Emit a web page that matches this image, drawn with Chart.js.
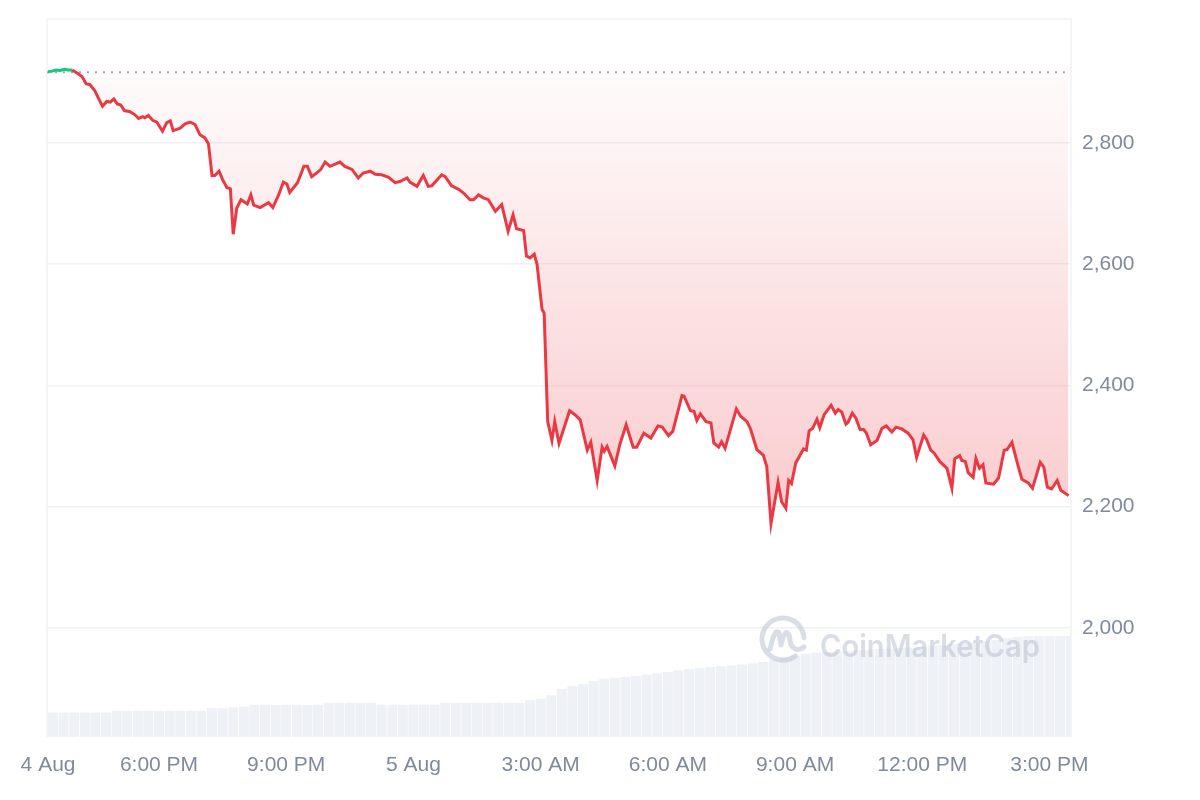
<!DOCTYPE html>
<html>
<head>
<meta charset="utf-8">
<title>Price chart</title>
<script src="https://cdn.jsdelivr.net/npm/chart.js@4.4.1/dist/chart.umd.min.js"></script>
<style>
  html, body { margin: 0; padding: 0; background: #ffffff; }
  #wrap { width: 1200px; height: 800px; }
</style>
</head>
<body>
<div id="wrap"><canvas id="mycanvas" width="1200" height="800"></canvas></div>
<script>
// time = minutes after 4 Aug 00:00
var times = [
  923, 929, 934, 940, 946, 951, 957, 964, 971, 977, 982, 989, 1000, 1006, 1011, 1016, 1021, 1026, 1031, 1039,
  1046, 1051, 1057, 1060, 1065, 1071, 1077, 1085, 1091, 1096, 1100, 1110, 1117, 1124, 1131, 1138, 1145, 1150, 1155, 1159,
  1165, 1170, 1176, 1181, 1185, 1190, 1196, 1205, 1210, 1214, 1223, 1235, 1241, 1249, 1256, 1261, 1265, 1276, 1285, 1290,
  1296, 1303, 1309, 1315, 1322, 1336, 1343, 1353, 1362, 1369, 1379, 1386, 1395, 1405, 1414, 1421, 1431, 1435, 1445, 1454,
  1461, 1466, 1480, 1485, 1494, 1504, 1511, 1520, 1525, 1532, 1539, 1546, 1556, 1565, 1574, 1581, 1586, 1596, 1600, 1605,
  1611, 1615, 1622, 1625, 1630, 1636, 1640, 1646, 1661, 1669, 1676, 1686, 1691, 1700, 1707, 1710, 1714, 1725, 1732, 1741,
  1751, 1756, 1766, 1776, 1786, 1792, 1801, 1807, 1820, 1823, 1832, 1837, 1841, 1846, 1854, 1861, 1865, 1872, 1876, 1881,
  1897, 1903, 1912, 1917, 1926, 1935, 1940, 1946, 1956, 1961, 1967, 1971, 1975, 1981, 1992, 1996, 2000, 2005, 2011, 2015,
  2021, 2031, 2037, 2041, 2046, 2052, 2055, 2061, 2066, 2072, 2077, 2081, 2087, 2096, 2103, 2109, 2117, 2123, 2131, 2140,
  2147, 2152, 2162, 2166, 2172, 2177, 2185, 2195, 2202, 2206, 2213, 2216, 2221, 2225, 2232, 2236, 2241, 2246, 2250, 2261,
  2268, 2276, 2280, 2287, 2294, 2301, 2310, 2316, 2327, 2332, 2337, 2343, 2351, 2356, 2367
];
var prices = [
  2917, 2918, 2920, 2919, 2921, 2920, 2920, 2915, 2909, 2897, 2896, 2886, 2860, 2868, 2867, 2872, 2864, 2862, 2853, 2851,
  2846, 2840, 2843, 2841, 2845, 2837, 2834, 2819, 2833, 2836, 2820, 2824, 2831, 2834, 2830, 2813, 2808, 2798, 2746, 2746,
  2753, 2739, 2726, 2724, 2649, 2692, 2706, 2699, 2714, 2697, 2693, 2701, 2693, 2713, 2735, 2732, 2718, 2734, 2761, 2761,
  2744, 2750, 2756, 2768, 2761, 2768, 2761, 2756, 2742, 2750, 2753, 2748, 2747, 2743, 2734, 2736, 2742, 2735, 2728, 2746,
  2728, 2729, 2747, 2744, 2729, 2723, 2717, 2706, 2706, 2714, 2709, 2706, 2687, 2698, 2654, 2681, 2658, 2655, 2613, 2610,
  2616, 2599, 2525, 2519, 2340, 2309, 2340, 2304, 2358, 2351, 2343, 2293, 2306, 2243, 2298, 2291, 2299, 2267, 2302, 2335,
  2298, 2298, 2321, 2313, 2333, 2331, 2317, 2324, 2383, 2382, 2358, 2357, 2342, 2353, 2340, 2338, 2305, 2298, 2307, 2296,
  2361, 2349, 2340, 2328, 2294, 2285, 2266, 2172, 2240, 2208, 2197, 2243, 2238, 2272, 2295, 2293, 2325, 2329, 2344, 2330,
  2351, 2367, 2354, 2360, 2356, 2336, 2339, 2354, 2346, 2327, 2327, 2321, 2302, 2309, 2329, 2333, 2323, 2331, 2328, 2321,
  2310, 2281, 2318, 2311, 2293, 2288, 2274, 2263, 2230, 2279, 2284, 2276, 2274, 2256, 2248, 2279, 2263, 2269, 2239, 2237,
  2247, 2293, 2294, 2306, 2274, 2245, 2239, 2230, 2273, 2265, 2232, 2229, 2243, 2227, 2218
];
var openPrice = 2916;

// 24h volume (billions USD), one bar per 15 minutes
var volTimes = [
  930, 945, 960, 975, 990, 1005, 1020, 1035, 1050, 1065, 1080, 1095, 1110, 1125, 1140, 1155, 1170, 1185, 1200, 1215,
  1230, 1245, 1260, 1275, 1290, 1305, 1320, 1335, 1350, 1365, 1380, 1395, 1410, 1425, 1440, 1455, 1470, 1485, 1500, 1515,
  1530, 1545, 1560, 1575, 1590, 1605, 1620, 1635, 1650, 1665, 1680, 1695, 1710, 1725, 1740, 1755, 1770, 1785, 1800, 1815,
  1830, 1845, 1860, 1875, 1890, 1905, 1920, 1935, 1950, 1965, 1980, 1995, 2010, 2025, 2040, 2055, 2070, 2085, 2100, 2115,
  2130, 2145, 2160, 2175, 2190, 2205, 2220, 2235, 2250, 2265, 2280, 2295, 2310, 2325, 2340, 2355, 2370
];
var volumes = [
  14.0, 14.0, 14.0, 14.0, 14.0, 14.0, 15.1, 15.1, 15.1, 15.1, 15.1, 15.1, 15.1, 15.1, 15.1, 16.5, 16.5, 17.0, 17.4, 18.4,
  18.4, 18.4, 18.4, 18.4, 18.4, 18.4, 19.7, 19.7, 19.7, 19.7, 19.7, 18.5, 18.5, 18.5, 18.5, 18.5, 18.5, 19.7, 19.7, 19.7,
  19.7, 19.7, 19.7, 19.7, 19.7, 21.2, 21.8, 24.0, 27.6, 29.2, 30.4, 32.0, 33.5, 34.0, 34.5, 35.0, 35.8, 36.5, 37.3, 38.2,
  39.0, 39.5, 40.1, 40.6, 41.1, 41.6, 42.3, 43.0, 44.5, 45.6, 46.7, 47.7, 48.4, 48.8, 49.2, 49.5, 49.8, 50.1, 50.5, 50.8,
  51.1, 51.4, 51.8, 52.3, 52.7, 53.3, 53.8, 54.4, 54.8, 55.7, 56.6, 57.4, 57.8, 57.9, 58.0, 58.0, 58.0
];

var xTicks = [923, 1080, 1260, 1440, 1620, 1800, 1980, 2160, 2340];
var xTickLabels = ["4 Aug", "6:00 PM", "9:00 PM", "5 Aug", "3:00 AM", "6:00 AM", "9:00 AM", "12:00 PM", "3:00 PM"];
var yTicks = [2000, 2200, 2400, 2600, 2800];

var xMin = 921.5, xMax = 2370.5;
var red = "#ea3943";
var green = "#16c784";
var gridColor = "#eff2f5";
var labelColor = "#808a9d";

var pricePoints = [];
for (var i = 0; i < times.length; i++) {
  pricePoints.push({ x: times[i], y: prices[i] });
}
var volPoints = [];
for (var j = 0; j < volTimes.length; j++) {
  volPoints.push({ x: volTimes[j], y: volumes[j] });
}

var frame = {
  id: "frame",
  beforeDatasetsDraw: function(chart) {
    var a = chart.chartArea, ctx = chart.ctx;
    ctx.save();
    ctx.strokeStyle = gridColor;
    ctx.lineWidth = 1.5;
    ctx.beginPath();
    ctx.moveTo(a.left, a.bottom);
    ctx.lineTo(a.left, a.top);
    ctx.lineTo(a.right, a.top);
    ctx.lineTo(a.right, a.bottom);
    ctx.stroke();
    ctx.restore();
  }
};

var watermark = {
  id: "watermark",
  afterDatasetsDraw: function(chart) {
    var ctx = chart.ctx;
    var cx = 783, cy = 639;
    ctx.save();
    ctx.strokeStyle = "rgba(180,188,204,0.5)";
    ctx.lineWidth = 5;
    ctx.lineCap = "round";
    ctx.lineJoin = "round";
    ctx.beginPath();
    ctx.arc(cx, cy, 21, 0.3 * Math.PI, 1.98 * Math.PI, false);
    ctx.stroke();
    ctx.beginPath();
    ctx.moveTo(cx - 13, cy + 10);
    ctx.quadraticCurveTo(cx - 8, cy - 12, cx - 4, cy - 6);
    ctx.lineTo(cx - 2, cy + 6);
    ctx.quadraticCurveTo(cx + 2, cy - 12, cx + 6, cy - 4);
    ctx.lineTo(cx + 8, cy + 6);
    ctx.quadraticCurveTo(cx + 14, cy + 14, cx + 21, cy + 8);
    ctx.stroke();
    ctx.fillStyle = "rgba(180,188,204,0.5)";
    ctx.font = "600 31px Inter, 'Open Sans', sans-serif";
    ctx.textBaseline = "alphabetic";
    ctx.fillText("CoinMarketCap", 820, 657, 220);
    ctx.restore();
  }
};

var ctx = document.getElementById("mycanvas");

var chart = new Chart(ctx, {
  data: {
    datasets: [
      {
        type: "line",
        data: pricePoints,
        yAxisID: "y",
        borderColor: red,
        borderWidth: 3,
        pointRadius: 0,
        tension: 0,
        order: 0,
        fill: { value: openPrice, above: "rgba(22,199,132,0.08)", below: "rgba(234,57,67,0.15)" },
        segment: {
          borderColor: function(c) {
            return (c.p0.parsed.y >= openPrice && c.p1.parsed.y >= openPrice) ? green : red;
          }
        }
      },
      {
        type: "line",
        data: [{ x: xMin, y: openPrice }, { x: xMax, y: openPrice }],
        yAxisID: "y",
        borderColor: "#a1a7b5",
        borderWidth: 2,
        borderDash: [2, 6],
        pointRadius: 0,
        fill: false,
        order: 1
      },
      {
        type: "bar",
        data: volPoints,
        yAxisID: "vol",
        backgroundColor: "#eef1f5",
        barPercentage: 1,
        categoryPercentage: 0.94,
        order: 2
      }
    ]
  },
  options: {
    responsive: false,
    animation: false,
    devicePixelRatio: 1,
    layout: { padding: { left: 47, top: 19, right: 0, bottom: 0 } },
    plugins: {
      legend: { display: false },
      tooltip: { enabled: false }
    },
    scales: {
      x: {
        type: "linear",
        offset: false,
        min: xMin,
        max: xMax,
        grid: { display: false, drawTicks: false, offset: false },
        border: { display: false },
        afterBuildTicks: function(scale) {
          scale.ticks = xTicks.map(function(v) { return { value: v }; });
        },
        afterFit: function(scale) {
          scale.height = 63;
          scale.paddingLeft = 0;
          scale.paddingRight = 0;
        },
        ticks: {
          autoSkip: false,
          maxRotation: 0,
          padding: 16,
          color: labelColor,
          font: { family: "'Liberation Sans', Arial, sans-serif", size: 21 },
          callback: function(value, index) { return xTickLabels[index]; }
        }
      },
      y: {
        position: "right",
        min: 1820,
        max: 3004,
        grid: { color: gridColor, lineWidth: 1.5, drawTicks: false },
        border: { display: false },
        afterBuildTicks: function(scale) {
          scale.ticks = yTicks.map(function(v) { return { value: v }; });
        },
        afterFit: function(scale) {
          scale.width = 129;
          scale.paddingTop = 0;
          scale.paddingBottom = 0;
        },
        ticks: {
          padding: 11,
          color: labelColor,
          font: { family: "'Liberation Sans', Arial, sans-serif", size: 21 },
          callback: function(value) { return value.toLocaleString("en-US"); }
        }
      },
      vol: {
        display: false,
        min: 0,
        max: 412
      }
    }
  },
  plugins: [frame, watermark]
});

// red fill fades from the opening price down to the bottom of the plot
var area = chart.chartArea;
var topY = chart.scales.y.getPixelForValue(openPrice);
var grad = chart.ctx.createLinearGradient(0, topY, 0, area.bottom);
grad.addColorStop(0, "rgba(234,57,67,0.02)");
grad.addColorStop(1, "rgba(234,57,67,0.38)");
chart.data.datasets[0].fill.below = grad;
chart.update("none");
</script>
</body>
</html>
